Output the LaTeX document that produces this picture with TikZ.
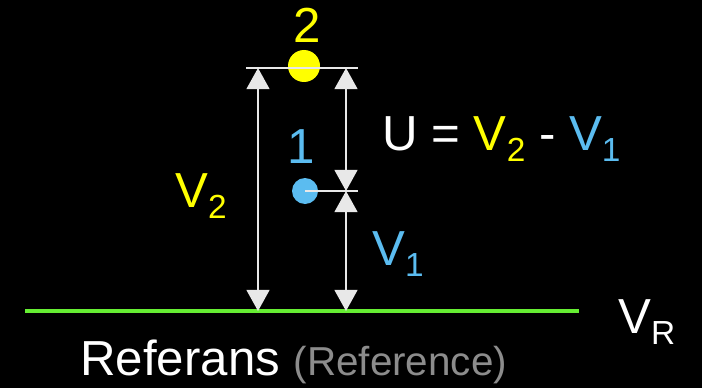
\documentclass[tikz,border=0pt]{standalone}
\usepackage{fontspec}
\setmainfont{Liberation Sans}
\usetikzlibrary{arrows.meta}
\definecolor{LineWhite}{HTML}{E8E8E8}
\definecolor{GroundGreen}{HTML}{66EE33}
\definecolor{PointYellow}{HTML}{FFFF00}
\definecolor{PointBlue}{HTML}{5BBCF0}
\definecolor{NoteGray}{HTML}{8C8C8C}
\newcommand{\lowsub}[1]{\raisebox{-6.8pt}{\fontsize{19}{19}\selectfont #1}}

\begin{document}
\begin{tikzpicture}[font=\fontsize{28}{30}\selectfont,text=white,
  dim/.style={LineWhite,line width=1.1pt,{Triangle[width=13pt,length=12pt]}-{Triangle[width=13pt,length=12pt]}},
  point/.style={circle,inner sep=0pt},
  lbl/.style={inner sep=0pt,anchor=base west}]
\fill[black] (0,0) rectangle (14.04,7.76);
\coordinate (ground west) at (0.5,1.54); \coordinate (ground east) at (11.58,1.54);
\coordinate (top west) at (4.92,6.4); \coordinate (top east) at (7.16,6.4);
\coordinate (v2 top) at (5.16,6.4); \coordinate (v2 foot) at (5.16,1.54);
\coordinate (u top) at (6.92,6.4); \coordinate (v1 top) at (6.92,3.94); \coordinate (v1 foot) at (6.92,1.54);
\coordinate (mid east) at (7.16,3.94);
\node[point,fill=PointYellow,minimum size=0.64cm] (p2) at (6.08,6.44) {};
\node[point,fill=PointBlue,minimum size=0.52cm] (p1) at (6.1,3.94) {};
\draw[GroundGreen,line width=2.6pt] (ground west) -- (ground east);
\draw[LineWhite,line width=1.1pt] (top west) -- (top east);
\draw[LineWhite,line width=1.1pt] (p1.center) -- (mid east);
\draw[dim] (v2 top) -- (v2 foot);
\draw[dim] (u top) -- (v1 top);
\draw[dim] (v1 top) -- (v1 foot);
\node[lbl,text=PointYellow,anchor=base] (n2) at (6.14,6.9) {2};
\node[lbl,text=PointBlue,anchor=base] (n1) at (6.02,4.5) {1};
\node[lbl,text=PointYellow] (v2) at (3.5,3.62) {V\lowsub{2}};
\node[lbl] (u) at (7.64,4.76) {U = \textcolor{PointYellow}{V\lowsub{2}} - \textcolor{PointBlue}{V\lowsub{1}}};
\node[lbl,text=PointBlue] (v1) at (7.44,2.46) {V\lowsub{1}};
\node[lbl] (vr) at (12.36,1.1) {V\lowsub{R}};
\node[lbl] (ref) at (1.6,0.26) {Referans {\fontsize{23}{24}\selectfont\color{NoteGray}(Reference)}};
\end{tikzpicture}
\end{document}
